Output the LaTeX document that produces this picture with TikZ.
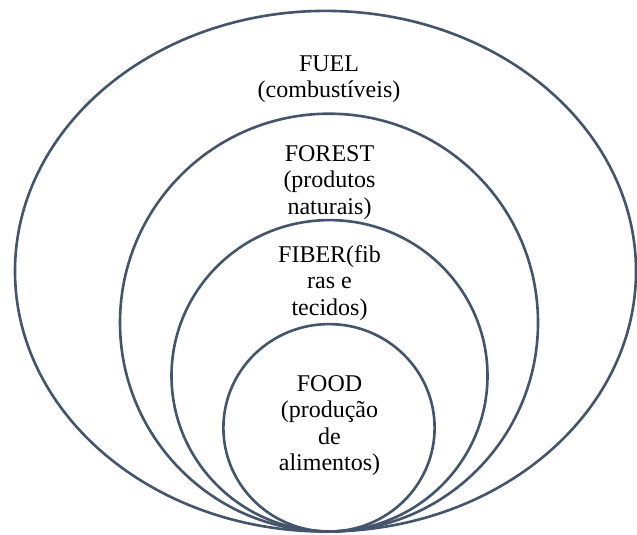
\documentclass[tikz,border=0pt]{standalone}
\usepackage{fontspec}
\setmainfont{Liberation Serif}
\definecolor{ringcol}{HTML}{44546A}
\begin{document}
\begin{tikzpicture}[x=1pt,y=-1pt,
  ring/.style={draw=ringcol,line width=2.6pt},
  lbl/.style={align=center,anchor=base,inner sep=0pt,text=black,
    font=\fontsize{24}{26.5}\selectfont}]
\useasboundingbox (0,0) rectangle (637,535);
\fill[white] (0,0) rectangle (637,535);
\draw[ring] (325.5,271.2) ellipse [x radius=310.5, y radius=260.3];
\draw[ring] (329,322.6) ellipse [x radius=209, y radius=208.9];
\draw[ring] (329.5,375.8) ellipse [x radius=158, y radius=155.7];
\draw[ring] (329,427.8) ellipse [x radius=105.6, y radius=103.7];
\node[lbl] (fuel) at (329,97.5) {FUEL\\(combustíveis)};
\node[lbl] (forest) at (329.5,214) {FOREST\\(produtos\\naturais)};
\node[lbl] (fiber) at (329.5,315) {FIBER(fib\\ras e\\tecidos)};
\node[lbl] (food) at (329.5,470.5) {FOOD\\(produção\\de\\alimentos)};
\end{tikzpicture}
\end{document}
